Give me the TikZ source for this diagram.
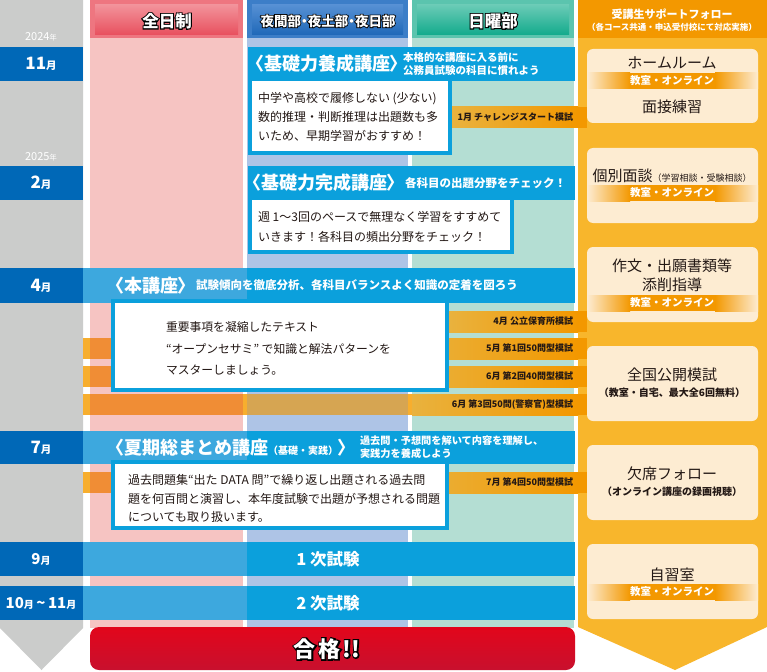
\documentclass[tikz,border=0pt]{standalone}
\usepackage{fontspec}
\newfontfamily\jp{Noto Sans CJK JP}
\newfontfamily\jpp{Noto Sans CJK JP}[RawFeature=+palt]
\newfontfamily\jpol{Noto Sans CJK JP}[BoldFeatures={FakeBold=12}]
\usetikzlibrary{fadings}
\definecolor{gcol}{HTML}{CBCCCB}
\definecolor{mblue}{HTML}{0068B7}
\definecolor{bbar}{HTML}{0BA0DC}
\definecolor{bbarl}{HTML}{3DA8DE}
\definecolor{pinkb}{HTML}{F6C4C2}
\definecolor{blueb}{HTML}{AEC4E6}
\definecolor{greenb}{HTML}{B4DED3}
\definecolor{pinkh}{HTML}{EE7680}
\definecolor{pinkh1}{HTML}{F2929A}
\definecolor{pinkh2}{HTML}{E8505E}
\definecolor{blueh}{HTML}{3C7EC8}
\definecolor{blueh1}{HTML}{5690D4}
\definecolor{blueh2}{HTML}{1F68B8}
\definecolor{greenh}{HTML}{5BC4AE}
\definecolor{greenh1}{HTML}{6ACBB6}
\definecolor{greenh2}{HTML}{12AA8C}
\definecolor{orcol}{HTML}{F8B62C}
\definecolor{orhead}{HTML}{F39800}
\definecolor{cream}{HTML}{FDECD2}
\definecolor{mockgap}{HTML}{F7AE2E}
\definecolor{mockpink}{HTML}{F08D35}
\definecolor{mockblue}{HTML}{D6A552}
\definecolor{mockgreen}{HTML}{E9B23E}
\definecolor{txt}{HTML}{231815}
\definecolor{red1}{HTML}{E2061B}
\definecolor{red2}{HTML}{C8102E}
\newcommand\fsz[1]{\fontsize{#1}{#1}\selectfont}
\newcommand\fszl[2]{\fontsize{#1}{#2}\selectfont}
\newcommand\outl[1]{\makebox[0pt][l]{\jpol\bfseries\color{black}#1}{\color{white}#1}}
\newcommand\band[2]{\fill[left color=cream, right color=orhead] (587,#1) rectangle (630,#2);
  \fill[orhead] (629.5,#1) rectangle (715.5,#2);
  \fill[left color=orhead, right color=cream] (715,#1) rectangle (758,#2);}
\begin{document}
\begin{tikzpicture}[x=1pt,y=-1pt,
 every node/.style={inner sep=0pt, outer sep=0pt},
 ttl/.style={anchor=west, text=white, font=\jp\bfseries\fsz{18}},
 subt/.style={anchor=west, text=white, font=\jp\bfseries\fsz{10.5}},
 bodyt/.style={anchor=west, text=txt, align=left},
 mockt/.style={anchor=east, text=txt, font=\jp\bfseries\fsz{9}},
 mont/.style={text=white, font=\jp\bfseries},
 yrt/.style={text=white, font=\jp},
 supt/.style={text=txt, font=\jp\fsz{15}},
 supsub/.style={text=txt, font=\jp\bfseries\fsz{10}},
 bandt/.style={text=white, font=\jp\bfseries\fsz{10.5}},
 hdt/.style={font=\jp\bfseries},
 wbox/.style={fill=white, draw=bbar, line width=4pt},
 supbox/.style={fill=cream, rounded corners=6pt},
 examt/.style={text=white, font=\jp\bfseries\fsz{16.5}},
]
\useasboundingbox (0,0) rectangle (767,671);
\fill[white] (0,0) rectangle (767,671);
% timeline column
\fill[gcol] (0,0) -- (83,0) -- (83,628) -- (41.5,670) -- (0,628) -- cycle;
% course columns
\fill[pinkb] (90,38) rectangle (243,628);
\fill[blueb] (247,38) rectangle (408,628);
\fill[greenb] (412,38) rectangle (574,628);
\fill[pinkh] (90,0) rectangle (243,38);
\shade[top color=pinkh1, bottom color=pinkh2] (95,5) rectangle (238,35);
\fill[blueh] (247,0) rectangle (408,38);
\shade[top color=blueh1, bottom color=blueh2] (252,5) rectangle (403,35);
\fill[greenh] (412,0) rectangle (574,38);
\shade[top color=greenh1, bottom color=greenh2] (417,5) rectangle (569,35);
% support column
\fill[orcol] (578,0) -- (767,0) -- (767,627) -- (675,670) -- (578,627) -- cycle;
\fill[orhead] (578,0) rectangle (767,38);
% blue course bars
\fill[bbar] (248,47) rectangle (575,81);
\fill[bbar] (248,166) rectangle (575,200);
\foreach \ya/\yb in {268/303, 431/464, 542/576, 586/620}{
  \fill[bbar] (83,\ya) rectangle (575,\yb);
  \fill[bbarl] (83,\ya) rectangle (247,\yb);
}
% month boxes
\fill[mblue] (0,47) rectangle (83,81);
\fill[mblue] (0,166) rectangle (83,200);
\fill[mblue] (0,268) rectangle (83,303);
\fill[mblue] (0,431) rectangle (83,464);
\fill[mblue] (0,542) rectangle (83,576);
\fill[mblue] (0,586) rectangle (83,620);
% mock exam bars
\foreach \ya/\yb in {338/359, 366/387, 394/415, 472/493}{
  \fill[mockgap] (83,\ya) rectangle (587,\yb);
  \fill[mockpink] (90,\ya) rectangle (243,\yb);
  \fill[mockblue] (247,\ya) rectangle (408,\yb);
  \fill[left color=mockgreen, right color=orhead] (412,\ya) rectangle (578,\yb);
  \fill[orhead] (577.5,\ya) rectangle (587,\yb);
}
\fill[left color=mockgreen, right color=orhead] (452,107) rectangle (578,128);
\fill[orhead] (577.5,107) rectangle (587,128);
\fill[left color=mockgreen, right color=orhead] (449,311) rectangle (578,332);
\fill[orhead] (577.5,311) rectangle (587,332);
% white boxes
\draw[wbox] (250,79) rectangle (450,153);
\draw[wbox] (250,198) rectangle (512,252);
\draw[wbox] (113,301) rectangle (447,390);
\draw[wbox] (113,462) rectangle (447,528);
% headers
\node[hdt, font=\jp\bfseries\fsz{16.5}] (h1) at (167,21) {\outl{全日制}};
\node[hdt, font=\jp\bfseries\fsz{13.5}] (h2) at (328,21) {\outl{夜間部{\jpp ・}夜土部{\jpp ・}夜日部}};
\node[hdt, font=\jp\bfseries\fsz{16.5}] (h3) at (493,21) {\outl{日曜部}};
\node[text=white, font=\jp\bfseries\fsz{11}] (s1) at (672,14) {受講生サポートフォロー};
\node[text=white, font=\jp\bfseries\fsz{8.5}] (s2) at (672,27) {（各コース共通・申込受付校にて対応実施）};
% years and months
\node[yrt] (y1) at (41,37) {{\fsz{11}2024}{\fsz{7.5}年}};
\node[yrt] (y2) at (41,157) {{\fsz{11}2025}{\fsz{7.5}年}};
\node[mont] (m1) at (41,64) {{\fsz{17}11}{\fsz{10.5}月}};
\node[mont] (m2) at (41,183) {{\fsz{17}2}{\fsz{10.5}月}};
\node[mont] (m3) at (41,285.5) {{\fsz{17}4}{\fsz{10.5}月}};
\node[mont] (m4) at (41,447.5) {{\fsz{17}7}{\fsz{10.5}月}};
\node[mont] (m5) at (41,559) {{\fsz{15}9}{\fsz{10}月}};
\node[mont] (m6) at (41,603) {{\fsz{15}10}{\fsz{10}月}{\fsz{15}\,\textasciitilde\,11}{\fsz{10}月}};
% course titles
\node[ttl] (t1) at (255,64) {{\jpp 〈}基礎力養成講座{\jpp 〉}};
\node[subt] (t1a) at (403,58) {本格的な講座に入る前に};
\node[subt] (t1b) at (403,71) {公務員試験の科目に慣れよう};
\node[ttl] (t2) at (252,183) {{\jpp 〈}基礎力完成講座{\jpp 〉}};
\node[subt, font=\jp\bfseries\fsz{11.5}] (t2a) at (405,183) {各科目の出題分野をチェック！};
\node[ttl] (t3) at (115,285.5) {{\jpp 〈}本講座{\jpp 〉}};
\node[subt, font=\jp\bfseries\fsz{11.5}] (t3a) at (196,285.5) {試験傾向を徹底分析、各科目バランスよく知識の定着を図ろう};
\node[ttl] (t4) at (115,447.5) {{\jpp 〈}夏期総まとめ講座{\fsz{10}（基礎・実践）}{\jpp 〉}};
\node[subt, font=\jp\bfseries\fsz{10.2}] (t4a) at (360,441) {過去問・予想問を解いて内容を理解し、};
\node[subt, font=\jp\bfseries\fsz{10.2}] (t4b) at (360,454) {実践力を養成しよう};
% body texts
\node[bodyt, font=\jp\fszl{12}{19}] (b1) at (258,117) {中学や高校で履修しない (少ない)\\数的推理・判断推理は出題数も多\\いため、早期学習がおすすめ！};
\node[bodyt, font=\jp\fszl{12}{20}] (b2) at (258,227) {週 1～3回のペースで無理なく学習をすすめて\\いきます！各科目の頻出分野をチェック！};
\node[bodyt, font=\jp\fszl{11.8}{21.5}] (b3) at (166,348.5) {重要事項を凝縮したテキスト\\“オープンセサミ” で知識と解法パターンを\\マスターしましょう。};
\node[bodyt, font=\jp\fszl{12}{18.5}] (b4) at (128,498.5) {過去問題集“出た DATA 問”で繰り返し出題される過去問\\題を何百問と演習し、本年度試験で出題が予想される問題\\についても取り扱います。};
% mock labels
\node[mockt] (k1) at (573,117.5) {1月 チャレンジスタート模試};
\node[mockt] (k2) at (573,321.5) {4月 公立保育所模試};
\node[mockt] (k3) at (573,348.5) {5月 第1回50問型模試};
\node[mockt] (k4) at (573,376.5) {6月 第2回40問型模試};
\node[mockt] (k5) at (573,404.5) {6月 第3回50問(警察官)型模試};
\node[mockt] (k6) at (573,482.5) {7月 第4回50問型模試};
% exams
\node[examt] (e1) at (328,559) {1 次試験};
\node[examt] (e2) at (328,603) {2 次試験};
% support boxes
\fill[supbox] (587,49) rectangle (758,123);
\fill[supbox] (587,148) rectangle (758,223);
\fill[supbox] (587,247) rectangle (758,322);
\fill[supbox] (587,346) rectangle (758,421);
\fill[supbox] (587,445) rectangle (758,520);
\fill[supbox] (587,544) rectangle (758,619);
\band{73}{89}
\band{185}{201}
\band{295}{311}
\band{584}{600}
\node[supt] (p1) at (672,63) {ホームルーム};
\node[bandt] (p1b) at (672,81) {教室・オンライン};
\node[supt] (p1c) at (672,107) {面接練習};
\node[supt] (p2) at (672,176) {個別面談{\fsz{9}（学習相談・受験相談）}};
\node[bandt] (p2b) at (672,193) {教室・オンライン};
\node[supt] (p3) at (672,266) {作文・出願書類等};
\node[supt] (p3a) at (672,285) {添削指導};
\node[bandt] (p3b) at (672,303) {教室・オンライン};
\node[supt] (p4) at (672,375) {全国公開模試};
\node[supsub] (p4a) at (672,393) {（教室・自宅、最大全6回無料）};
\node[supt] (p5) at (672,474) {欠席フォロー};
\node[supsub] (p5a) at (672,492) {（オンライン講座の録画視聴）};
\node[supt] (p6) at (672,575) {自習室};
\node[bandt] (p6b) at (672,592) {教室・オンライン};
% pass box
\shade[top color=red1, bottom color=red2, rounded corners=9pt] (90,627) rectangle (575,670);
\node[hdt, font=\jp\bfseries\fsz{22}] (g) at (327,649) {\outl{合\hspace{3pt}格\hspace{2pt}!!}};
\end{tikzpicture}
\end{document}
